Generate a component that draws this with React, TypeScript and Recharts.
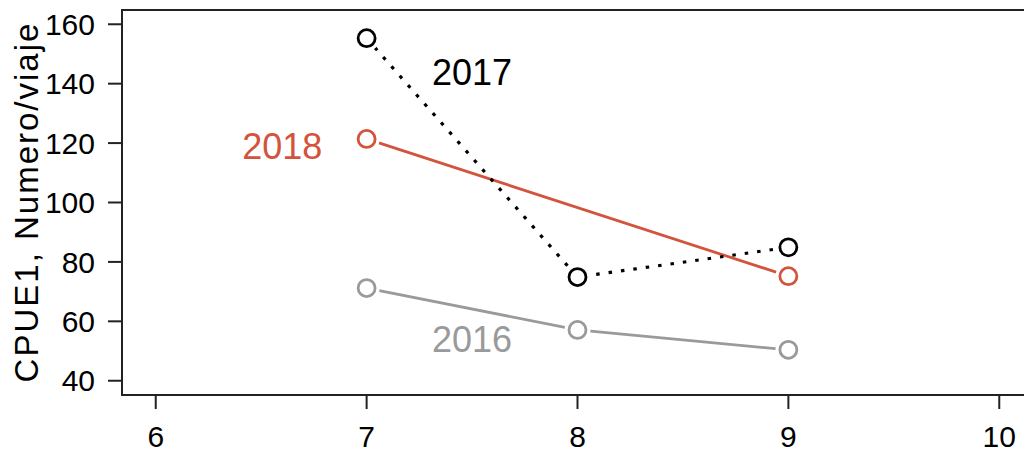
import {
  Label,
  Line,
  LineChart,
  ReferenceArea,
  ReferenceDot,
  XAxis,
  YAxis,
} from "recharts";

const months = [7, 8, 9];
const cpue2016 = [71.2, 57.1, 50.4];
const cpue2017 = [155.3, 74.9, 84.9];
const cpue2018 = [121.4, null, 75.2];

const xTicks = [6, 7, 8, 9, 10];
const yTicks = [40, 60, 80, 100, 120, 140, 160];

const yearLabels = [
  { x: 7.5, y: 144, text: "2017", color: "#000000" },
  { x: 6.6, y: 119, text: "2018", color: "#d3543c" },
  { x: 7.5, y: 54, text: "2016", color: "#9a9a9a" },
];

const data = months.map((m, i) => ({
  month: m,
  y2016: cpue2016[i],
  y2017: cpue2017[i],
  y2018: cpue2018[i],
}));

const FONT = "'Liberation Sans', Arial, sans-serif";
const X_DOMAIN: [number, number] = [5.84, 10.16];
const Y_DOMAIN: [number, number] = [35.2, 164.8];

// open circle with a white halo so the line stops short of it, like R's type="b"
const ringDot = (color: string) => (props: any) => {
  const { cx, cy, index } = props;
  if (cx == null || cy == null || props.value == null) return <g key={index} />;
  return (
    <g key={index}>
      <circle cx={cx} cy={cy} r={13} fill="#fff" stroke="none" />
      <circle cx={cx} cy={cy} r={8.5} fill="none" stroke={color} strokeWidth={2.8} />
    </g>
  );
};

export default function App() {
  return (
    <div
      style={{
        position: "absolute",
        left: 0,
        top: 0,
        width: 1024,
        height: 454,
        overflow: "hidden",
        background: "#fff",
      }}
    >
      <LineChart
        width={1040}
        height={454}
        data={data}
        margin={{ top: 10, right: 7, bottom: 0, left: 0 }}
        style={{ fontFamily: FONT }}
      >
        <XAxis
          dataKey="month"
          type="number"
          domain={X_DOMAIN}
          ticks={xTicks}
          allowDataOverflow
          height={59}
          tickSize={14}
          tickMargin={17}
          axisLine={false}
          tickLine={{ stroke: "#222", strokeWidth: 2 }}
          tick={{ fill: "#000", fontSize: 30 }}
        />
        <YAxis
          type="number"
          domain={Y_DOMAIN}
          ticks={yTicks}
          allowDataOverflow
          width={122}
          tickSize={14}
          tickMargin={13}
          axisLine={false}
          tickLine={{ stroke: "#222", strokeWidth: 2 }}
          tick={{ fill: "#000", fontSize: 30 }}
        >
          <Label
            content={() => (
              <text
                x={38}
                y={202}
                transform="rotate(-90 38 202)"
                textAnchor="middle"
                fontSize={33}
                letterSpacing={2}
                fill="#000"
              >
                CPUE1, Numero/viaje
              </text>
            )}
          />
        </YAxis>
        <ReferenceArea
          x1={X_DOMAIN[0]}
          x2={X_DOMAIN[1]}
          y1={Y_DOMAIN[0]}
          y2={Y_DOMAIN[1]}
          fill="none"
          stroke="#222"
          strokeWidth={2}
          ifOverflow="visible"
        />
        <Line
          dataKey="y2016"
          stroke="#9a9a9a"
          strokeWidth={2.8}
          dot={ringDot("#9a9a9a")}
          activeDot={false}
          isAnimationActive={false}
        />
        <Line
          dataKey="y2018"
          stroke="#d3543c"
          strokeWidth={2.8}
          connectNulls
          dot={ringDot("#d3543c")}
          activeDot={false}
          isAnimationActive={false}
        />
        <Line
          dataKey="y2017"
          stroke="#000"
          strokeWidth={3.2}
          strokeDasharray="3.5 9"
          dot={ringDot("#000")}
          activeDot={false}
          isAnimationActive={false}
        />
        {yearLabels.map((l) => (
          <ReferenceDot
            key={l.text}
            x={l.x}
            y={l.y}
            r={0}
            stroke="none"
            fill="none"
            ifOverflow="visible"
            label={{
              value: l.text,
              position: "center",
              fill: l.color,
              fontSize: 36,
              fontFamily: FONT,
            }}
          />
        ))}
      </LineChart>
    </div>
  );
}
